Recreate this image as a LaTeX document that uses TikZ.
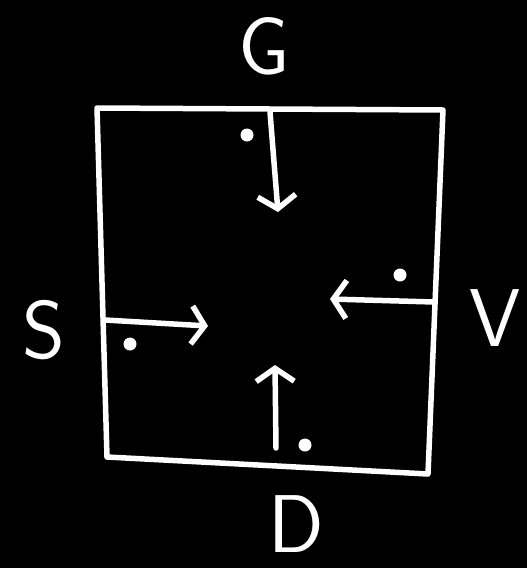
\documentclass[tikz,border=0pt]{standalone}
\usetikzlibrary{arrows.meta}
\tikzset{
  chalk/.style   ={draw=white,line width=5.5pt,line cap=round,line join=round},
  push/.style    ={chalk,-{Straight Barb[length=13pt,width=38pt]}},
  dotmark/.style ={circle,fill=white,inner sep=0pt,minimum size=13pt},
  side/.style    ={text=white,font=\sffamily\fontsize{82}{82}\selectfont,inner sep=0pt},
}

\begin{document}
\begin{tikzpicture}[x=1pt,y=-1pt]

\fill[black] (0,0) rectangle (527,568);
\useasboundingbox (0,0) rectangle (527,568);

% the box
\coordinate (tl) at (97,108);
\coordinate (tr) at (443,110);
\coordinate (br) at (428,474);
\coordinate (bl) at (107,457);
\draw[chalk] (tl) -- (tr) -- (br) -- (bl) -- cycle;

% side labels
\node[side] (g) at (264,46) {G};
\node[side] (s) at (44,330) {S};
\node[side] (v) at (495,318) {V};
\node[side] (d) at (296,524) {D};

% inward arrows
\coordinate (g0) at (270,112);
\coordinate (g1) at (278,212);
\coordinate (s0) at (105,320);
\coordinate (s1) at (208,326);
\coordinate (v0) at (434,302);
\coordinate (v1) at (330,299);
\coordinate (d0) at (276,448);
\coordinate (d1) at (275,365);
\draw[push] (g0) -- (g1);
\draw[push] (s0) -- (s1);
\draw[push] (v0) -- (v1);
\draw[push] (d0) -- (d1);

% dots
\node[dotmark] (gdot) at (247,135) {};
\node[dotmark] (sdot) at (130,344) {};
\node[dotmark] (vdot) at (400,275) {};
\node[dotmark] (ddot) at (305,445) {};

\end{tikzpicture}
\end{document}
